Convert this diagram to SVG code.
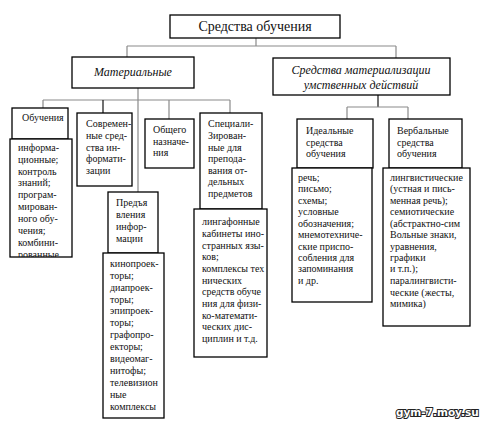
<svg xmlns="http://www.w3.org/2000/svg" width="480" height="427" viewBox="0 0 480 427">
<style>
.box{fill:#fff;stroke:#000;stroke-width:1.3}
.t{font-family:"Liberation Serif","Times New Roman",serif;font-size:10px;fill:#111}
.h{font-family:"Liberation Serif","Times New Roman",serif;font-size:14px;fill:#111}
.i{font-family:"Liberation Serif","Times New Roman",serif;font-size:12px;font-style:italic;fill:#111}
.g{fill:none;stroke:#8a8a8a;stroke-width:1.2}
.k{fill:none;stroke:#111;stroke-width:1.2}
.wm{font-family:"DejaVu Sans",sans-serif;font-size:10.5px;font-weight:bold;fill:#fff;stroke:#222;stroke-width:2;paint-order:stroke}
</style>
<defs>
<clipPath id="c1"><rect x="10" y="139" width="62" height="118"/></clipPath>
</defs>
<rect width="480" height="427" fill="#fff"/>
<g id="connectors">
<path class="g" d="M256 38V46M127 46H396M127 46V58M396 46V58"/>
<path class="g" d="M43 100H230M43 100V108M138 88V192M169 100V119M230 100V113"/>
<path class="k" d="M103 100V113"/>
<path class="k" d="M378 95V107"/>
<path class="g" d="M347 107H408M347 107V119M408 107V119"/>
</g>
<g id="root">
<rect class="box" x="170" y="15" width="170" height="23"/>
<text class="h" x="255" y="31" text-anchor="middle">Средства обучения</text>
</g>
<g id="material">
<rect class="box" x="72" y="57" width="122" height="31"/>
<text class="i" x="133" y="76" text-anchor="middle">Материальные</text>
</g>
<g id="mental">
<rect class="box" x="273" y="58" width="177" height="37"/>
<text class="i" x="361" y="74" text-anchor="middle">Средства материализации</text>
<text class="i" x="361" y="89" text-anchor="middle">умственных действий</text>
</g>
<g id="learning">
<rect class="box" x="12" y="108" width="56" height="31"/>
<text class="t" x="22" y="121">Обучения</text>
</g>
<g id="learning-list">
<rect class="box" x="10" y="139" width="62" height="118"/>
<g clip-path="url(#c1)">
<text class="t" x="18" y="151">информа-</text>
<text class="t" x="18" y="163">ционные;</text>
<text class="t" x="18" y="175">контроль</text>
<text class="t" x="18" y="186">знаний;</text>
<text class="t" x="18" y="198">програм-</text>
<text class="t" x="18" y="210">мирован-</text>
<text class="t" x="18" y="222">ного обу-</text>
<text class="t" x="18" y="234">чения;</text>
<text class="t" x="18" y="246">комбини-</text>
<text class="t" x="18" y="258">рованные</text>
</g>
</g>
<g id="modern">
<rect class="box" x="77" y="113" width="55" height="73"/>
<text class="t" x="86" y="127">Современ-</text>
<text class="t" x="86" y="139">ные сред-</text>
<text class="t" x="86" y="151">ства ин-</text>
<text class="t" x="86" y="162">формати-</text>
<text class="t" x="86" y="174">зации</text>
</g>
<g id="presentation">
<rect class="box" x="108" y="192" width="50" height="61"/>
<text class="t" x="116" y="206">Предъя</text>
<text class="t" x="116" y="218">вления</text>
<text class="t" x="116" y="230">инфор-</text>
<text class="t" x="116" y="242">мации</text>
</g>
<g id="presentation-list">
<rect class="box" x="103" y="253" width="61" height="165"/>
<text class="t" x="110" y="267">кинопроек-</text>
<text class="t" x="110" y="279">торы;</text>
<text class="t" x="110" y="291">диапроек-</text>
<text class="t" x="110" y="303">торы;</text>
<text class="t" x="110" y="314">эпипроек-</text>
<text class="t" x="110" y="326">торы;</text>
<text class="t" x="110" y="338">графопро-</text>
<text class="t" x="110" y="350">екторы;</text>
<text class="t" x="110" y="362">видеомаг-</text>
<text class="t" x="110" y="374">нитофы;</text>
<text class="t" x="110" y="386">телевизион</text>
<text class="t" x="110" y="398">ные</text>
<text class="t" x="110" y="410">комплексы</text>
</g>
<g id="general">
<rect class="box" x="145" y="119" width="49" height="49"/>
<text class="t" x="153" y="133">Общего</text>
<text class="t" x="153" y="145">назначе-</text>
<text class="t" x="153" y="156">ния</text>
</g>
<g id="special">
<rect class="box" x="200" y="113" width="62" height="96"/>
<text class="t" x="208" y="127">Специали-</text>
<text class="t" x="208" y="139">Зирован-</text>
<text class="t" x="208" y="151">ные для</text>
<text class="t" x="208" y="162">препода-</text>
<text class="t" x="208" y="174">вания от-</text>
<text class="t" x="208" y="185">дельных</text>
<text class="t" x="208" y="197">предметов</text>
</g>
<g id="special-list">
<rect class="box" x="194" y="209" width="73" height="148"/>
<text class="t" x="202" y="225">лингафонные</text>
<text class="t" x="202" y="237">кабинеты ино-</text>
<text class="t" x="202" y="249">странных язы-</text>
<text class="t" x="202" y="260">ков;</text>
<text class="t" x="202" y="272">комплексы тех</text>
<text class="t" x="202" y="284">нических</text>
<text class="t" x="202" y="295">средств обуче</text>
<text class="t" x="202" y="307">ния для физи-</text>
<text class="t" x="202" y="319">ко-математи-</text>
<text class="t" x="202" y="330">ческих дис-</text>
<text class="t" x="202" y="342">циплин и т.д.</text>
</g>
<g id="ideal">
<rect class="box" x="297" y="119" width="76" height="49"/>
<text class="t" x="306" y="134">Идеальные</text>
<text class="t" x="306" y="146">средства</text>
<text class="t" x="306" y="157">обучения</text>
</g>
<g id="ideal-list">
<rect class="box" x="292" y="168" width="80" height="134"/>
<text class="t" x="298" y="181">речь;</text>
<text class="t" x="298" y="192">письмо;</text>
<text class="t" x="298" y="204">схемы;</text>
<text class="t" x="298" y="215">условные</text>
<text class="t" x="298" y="227">обозначения;</text>
<text class="t" x="298" y="238">мнемотехниче-</text>
<text class="t" x="298" y="250">ские приспо-</text>
<text class="t" x="298" y="261">собления для</text>
<text class="t" x="298" y="272">запоминания</text>
<text class="t" x="298" y="284">и др.</text>
</g>
<g id="verbal">
<rect class="box" x="389" y="119" width="73" height="49"/>
<text class="t" x="397" y="134">Вербальные</text>
<text class="t" x="397" y="146">средства</text>
<text class="t" x="397" y="157">обучения</text>
</g>
<g id="verbal-list">
<rect class="box" x="383" y="168" width="87" height="158"/>
<text class="t" x="390" y="181">лингвистические</text>
<text class="t" x="390" y="192">(устная и пись-</text>
<text class="t" x="390" y="204">менная речь);</text>
<text class="t" x="390" y="215">семиотические</text>
<text class="t" x="390" y="227">(абстрактно-сим</text>
<text class="t" x="390" y="238">Вольные знаки,</text>
<text class="t" x="390" y="250">уравнения,</text>
<text class="t" x="390" y="261">графики</text>
<text class="t" x="390" y="272">и т.п.);</text>
<text class="t" x="390" y="284">паралингвисти-</text>
<text class="t" x="390" y="296">ческие (жесты,</text>
<text class="t" x="390" y="307">мимика)</text>
</g>
<text class="wm" x="396" y="416">gym-7.moy.su</text>
</svg>
